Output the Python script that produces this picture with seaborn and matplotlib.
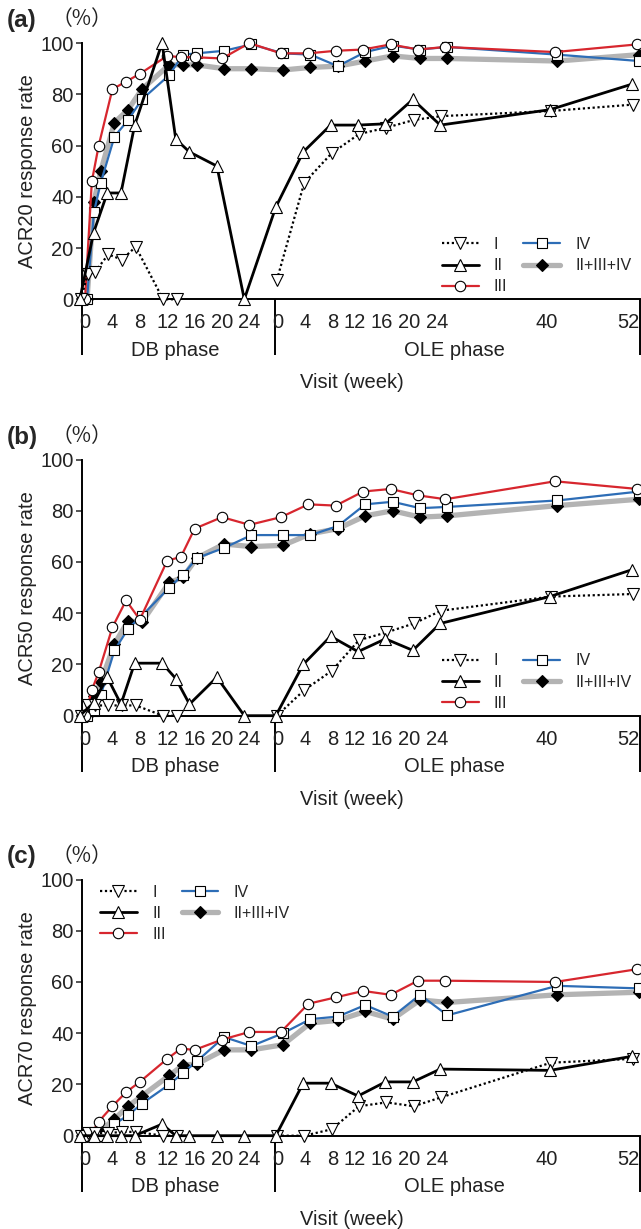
import numpy as np
import pandas as pd
import matplotlib
matplotlib.use("Agg")
import matplotlib.pyplot as plt
import matplotlib.transforms as mtransforms
import seaborn as sns

# ---------------- data ----------------
db_weeks = [0, 1, 2, 4, 6, 8, 12, 14, 16, 20, 24]
db_weeks_I = [0, 1, 2, 4, 6, 8, 12, 14]
db_weeks_II = [0, 2, 4, 6, 8, 12, 14, 16, 20, 24]
ole_weeks = [0, 4, 8, 12, 16, 20, 24, 40, 52]
db_tick_labels = ["0", "4", "8", "12", "16", "20", "24"]
ole_tick_labels = ["0", "4", "8", "12", "16", "20", "24", "40", "52"]

series_names = ["I", "II", "III", "IV", "II+III+IV"]
panel_letters = ["(a)", "(b)", "(c)"]
y_titles = ["ACR20 response rate", "ACR50 response rate", "ACR70 response rate"]

# (a) ACR20
a_I_db = [0, 10, 10.5, 17.5, 15.5, 20.5, 0, 0]
a_I_ole = [7.5, 45.5, 57, 64.5, 67, 70, 71.5, 73.5, 76]
a_II_db = [0, 26, 41.5, 41.5, 68, 100, 62.5, 57.5, 52, 0]
a_II_ole = [36, 57.5, 68, 68, 68.5, 78, 68, 74, 84]
a_III_db = [0, 46, 60, 82, 85, 88, 95, 94.5, 94.5, 94, 100]
a_III_ole = [96, 96, 97, 97.5, 99.5, 97.5, 98.5, 96.5, 99.5]
a_IV_db = [0, 34, 45.5, 63.5, 70, 78, 87.5, 95.5, 96, 97, 99.5]
a_IV_ole = [96, 95.5, 91, 96.5, 99, 97.5, 98.5, 95.5, 93]
a_all_db = [0, 38, 50, 69, 74, 82, 91.5, 91.5, 91.5, 90, 90]
a_all_ole = [89.5, 90.5, 91, 93, 95, 94, 94, 93, 95.5]

# (b) ACR50
b_I_db = [0, 4, 4, 4, 4, 4, 0, 0]
b_I_ole = [0, 10, 17.5, 29.5, 32.5, 36, 41, 46.5, 47.5]
b_II_db = [0, 5, 15, 4.5, 20.5, 20.5, 14.5, 4.5, 15, 0]
b_II_ole = [0, 20, 31, 25, 30, 25.5, 36, 46.5, 57]
b_III_db = [0, 10, 17, 34.5, 45, 37.5, 60.5, 62, 73, 77.5, 74.5]
b_III_ole = [77.5, 82.5, 82, 87.5, 88.5, 86, 84.5, 91.5, 88.5]
b_IV_db = [0, 2, 8, 25.5, 34, 39, 50, 55, 61.5, 65.5, 70.5]
b_IV_ole = [70.5, 70.5, 74, 82.5, 83.5, 81, 81.5, 84, 87.5]
b_all_db = [0, 7.5, 13, 28, 37, 36.5, 52, 54, 61.5, 67, 66]
b_all_ole = [66.5, 71, 73, 78, 80, 77.5, 78, 82, 84.5]

# (c) ACR70
c_I_db = [0, 1, 1, 1, 1.5, 1.5, 0, 0]
c_I_ole = [0, 0, 2.5, 11.5, 13, 11.5, 15, 28.5, 30]
c_II_db = [0, 0, 0, 0, 0, 4.5, 0, 0, 0, 0]
c_II_ole = [0, 20.5, 20.5, 15.5, 21, 21, 26, 25.5, 31]
c_III_db = [0, 1, 5.5, 11.5, 17, 21, 30, 34, 33.5, 37.5, 40.5]
c_III_ole = [40.5, 51.5, 54, 56.5, 55, 60.5, 60.5, 60, 65]
c_IV_db = [0, 0, 0, 4.5, 8, 12.5, 20, 24.5, 29, 38.5, 35]
c_IV_ole = [40, 45.5, 46.5, 51, 46.5, 55, 47, 58.5, 57.5]
c_all_db = [0, 0.5, 2, 6.5, 11.5, 15.5, 23.5, 27.5, 28, 33.5, 33.5]
c_all_ole = [35.5, 44, 45, 48.5, 45.5, 53, 52, 55, 56]

panels = [
    {"I": (a_I_db, a_I_ole), "II": (a_II_db, a_II_ole), "III": (a_III_db, a_III_ole),
     "IV": (a_IV_db, a_IV_ole), "II+III+IV": (a_all_db, a_all_ole)},
    {"I": (b_I_db, b_I_ole), "II": (b_II_db, b_II_ole), "III": (b_III_db, b_III_ole),
     "IV": (b_IV_db, b_IV_ole), "II+III+IV": (b_all_db, b_all_ole)},
    {"I": (c_I_db, c_I_ole), "II": (c_II_db, c_II_ole), "III": (c_III_db, c_III_ole),
     "IV": (c_IV_db, c_IV_ole), "II+III+IV": (c_all_db, c_all_ole)},
]
db_weeks_for = {"I": db_weeks_I, "II": db_weeks_II, "III": db_weeks,
                "IV": db_weeks, "II+III+IV": db_weeks}

# ---------------- style / layout ----------------
sns.set_style("ticks")
plt.rcParams["font.family"] = ["Liberation Sans", "DejaVu Sans"]

OLE_OFF = 28.6          # horizontal position of OLE week 0 on the shared x axis
DIVIDER = 27.7
XL = (-0.48, 81.0)
shift = {"I": -0.6, "II": -0.75, "III": 0.0, "IV": 0.3, "II+III+IV": 0.3}
style = {
    "I": dict(color="black", linewidth=1.6, linestyle=(0, (1.0, 1.2)), marker="v",
              markersize=8, markerfacecolor="white", markeredgecolor="black", zorder=4),
    "II": dict(color="black", linewidth=2.0, linestyle="-", marker="^",
               markersize=8, markerfacecolor="white", markeredgecolor="black", zorder=5),
    "III": dict(color="#d7262e", linewidth=1.6, linestyle="-", marker="o",
                markersize=7.5, markerfacecolor="white", markeredgecolor="black", zorder=3),
    "IV": dict(color="#2d6db6", linewidth=1.6, linestyle="-", marker="s",
               markersize=7, markerfacecolor="white", markeredgecolor="black", zorder=2),
    "II+III+IV": dict(color="#b3b3b3", linewidth=3.8, linestyle="-", marker="D",
                      markersize=6, markerfacecolor="black", markeredgecolor="black", zorder=1),
}
draw_order = ["II+III+IV", "IV", "III", "I", "II"]
legend_anchor = [(0.645, 0.243), (0.645, 0.243), (0.033, 0.98)]

W, H = 641, 1229
fig = plt.figure(figsize=(W / 100, H / 100), dpi=100)
ax_left, ax_w, ax_h = 81.7 / W, 558.3 / W, 256.2 / H
ax_bottoms_px = [299.3, 715.7, 1135.7]
AXH_PX = 256.2

SPINE_LW = 1.4
FS = 14.5
TXT = "#222222"

for k, data in enumerate(panels):
    ax = fig.add_axes([ax_left, 1 - ax_bottoms_px[k] / H, ax_w, ax_h])
    handles = {}
    for name in draw_order:
        db_vals, ole_vals = data[name]
        dbw = db_weeks_for[name]
        xs_db = [w + shift[name] for w in dbw]
        xs_ole = [OLE_OFF + w + shift[name] for w in ole_weeks]
        st = dict(style[name])
        z = st.pop("zorder")
        if name == "I":
            segs = [(xs_db, db_vals), (xs_ole, ole_vals)]
        else:
            segs = [(xs_db + xs_ole, list(db_vals) + list(ole_vals))]
        for i, (xs, ys) in enumerate(segs):
            df = pd.DataFrame({"x": xs, "y": ys})
            sns.lineplot(data=df, x="x", y="y", ax=ax, estimator=None, sort=False,
                         errorbar=None, markeredgewidth=0.8, clip_on=False,
                         label=(name if i == 0 else None), zorder=z, **st)
            if i == 0:
                handles[name] = ax.lines[-1]

    ax.set_xlim(*XL)
    ax.set_ylim(0, 100)
    ax.set_yticks([0, 20, 40, 60, 80, 100])
    ax.set_xticks([])
    ax.set_xlabel("")
    ax.set_ylabel(y_titles[k], fontsize=FS, labelpad=2, color=TXT)
    ax.tick_params(axis="y", labelsize=FS, length=4.3, width=1.1, pad=1.5,
                   direction="out", labelcolor=TXT)
    for s in ["top", "right"]:
        ax.spines[s].set_visible(False)
    for s in ["left", "bottom"]:
        ax.spines[s].set_linewidth(SPINE_LW)
        ax.spines[s].set_color("black")

    # --- phase axis below the plot ---
    tr = mtransforms.blended_transform_factory(ax.transData, ax.transAxes)

    def fy(px):
        return -px / AXH_PX

    for xv in [XL[0], DIVIDER, XL[1]]:
        ax.plot([xv, xv], [0, fy(56)], transform=tr, color="black", lw=SPINE_LW,
                clip_on=False, solid_capstyle="butt")
    for lab in db_tick_labels:
        ax.text(float(lab), fy(29), lab, transform=tr, ha="center", va="baseline",
                fontsize=FS, color=TXT)
    for lab in ole_tick_labels:
        ax.text(OLE_OFF + float(lab) + 0.4, fy(29), lab, transform=tr, ha="right",
                va="baseline", fontsize=FS, color=TXT)
    ax.text((XL[0] + DIVIDER) / 2 - 0.5, fy(56.5), "DB phase", transform=tr, ha="center",
            va="baseline", fontsize=FS, color=TXT)
    ax.text((DIVIDER + XL[1]) / 2 - 0.5, fy(56.5), "OLE phase", transform=tr, ha="center",
            va="baseline", fontsize=FS, color=TXT)
    ax.text(0.484, fy(89), "Visit (week)", transform=ax.transAxes, ha="center",
            va="baseline", fontsize=FS, color=TXT)

    # --- panel letter and unit ---
    ax.text(-74.7 / 558.3, 1 + 22.5 / AXH_PX, panel_letters[k], transform=ax.transAxes,
            ha="left", va="center", fontsize=17.5, fontweight="bold")
    ax.text(0.0, 1 + 24 / AXH_PX, "（%）", transform=ax.transAxes, ha="center",
            va="center", fontsize=15, color=TXT,
            family=["Noto Sans CJK JP", "DejaVu Sans"])

    ax.legend([handles[n] for n in series_names], series_names, loc="upper left",
              bbox_to_anchor=legend_anchor[k], ncol=2, frameon=False,
              fontsize=11.5, handlelength=2.3, handletextpad=0.95,
              columnspacing=1.0, labelspacing=0.38, borderpad=0, borderaxespad=0)

fig.savefig("out.png", dpi=100)
